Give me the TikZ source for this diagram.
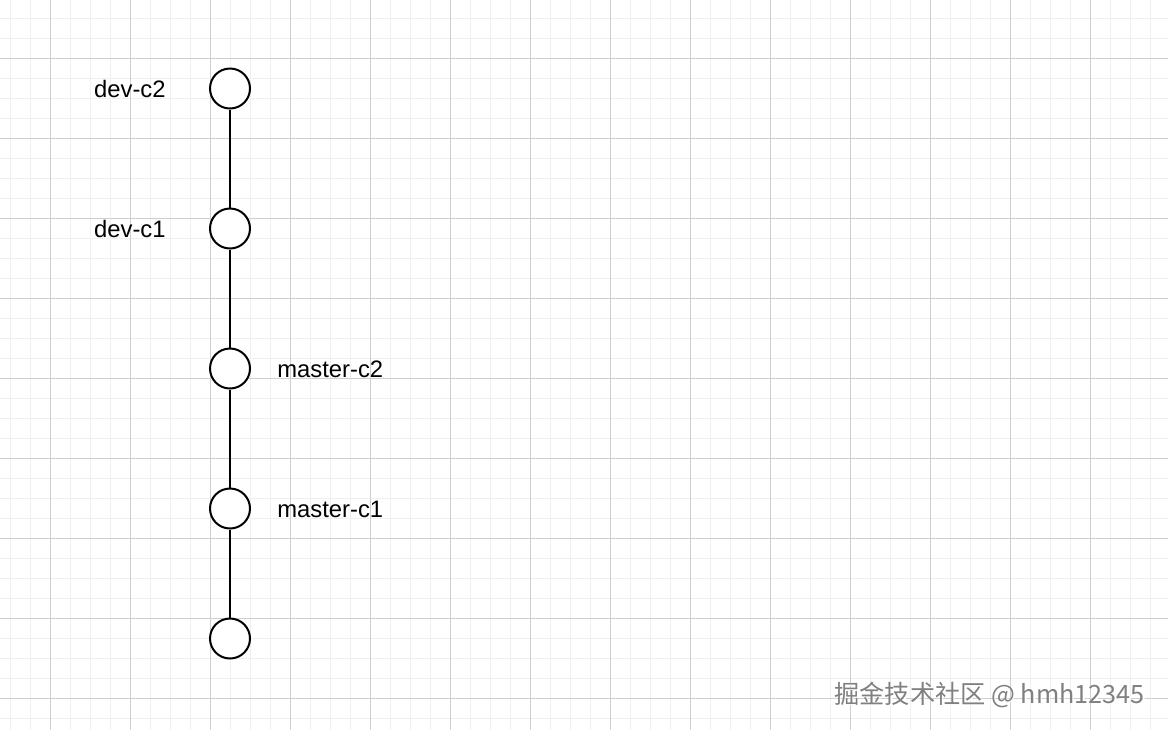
\documentclass[tikz,border=0pt]{standalone}
\usepackage{fontspec}
\setmainfont{Liberation Sans}
\newfontfamily\cjkfont{Noto Sans CJK SC}
\definecolor{minorgrid}{HTML}{F0F0F0}
\definecolor{majorgrid}{HTML}{CFCFCF}
\definecolor{wmgray}{HTML}{808080}
\tikzset{
  minorline/.style={draw=minorgrid, line width=0.5pt},
  majorline/.style={draw=majorgrid, line width=0.5pt},
  commit/.style={circle, draw=black, fill=white, line width=1pt, minimum size=20pt, inner sep=0pt},
  edge/.style={draw=black, line width=1pt},
  lbl/.style={inner sep=0pt, font=\fontsize{11.9}{14}\selectfont},
  wm/.style={inner sep=0pt, font=\cjkfont\fontsize{12.6}{15}\selectfont}
}
\begin{document}
\begin{tikzpicture}[x=0.5pt,y=-0.5pt]
\useasboundingbox (0,0) rectangle (1168,730);
\fill[white] (0,0) rectangle (1168,730);
% grid
\foreach \x in {10,30,...,1160} \draw[minorline] (\x,0) -- (\x,730);
\foreach \y in {18,38,...,730} \draw[minorline] (0,\y) -- (1168,\y);
\foreach \x in {50,130,...,1160} \draw[majorline] (\x,0) -- (\x,730);
\foreach \y in {58,138,...,730} \draw[majorline] (0,\y) -- (1168,\y);
% commits
\node[commit] (d2) at (230,88.5) {};
\node[commit] (d1) at (230,228.5) {};
\node[commit] (m2) at (230,368.5) {};
\node[commit] (m1) at (230,508.5) {};
\node[commit] (m0) at (230,638.5) {};
\draw[edge] (d2) -- (d1);
\draw[edge] (d1) -- (m2);
\draw[edge] (m2) -- (m1);
\draw[edge] (m1) -- (m0);
% labels
\node[lbl, anchor=base east] (ld2) at (166,97) {dev-c2};
\node[lbl, anchor=base east] (ld1) at (166,237) {dev-c1};
\node[lbl, anchor=base west] (lm2) at (277,377) {master-c2};
\node[lbl, anchor=base west] (lm1) at (277,517) {master-c1};
% watermark
\node[wm, anchor=base east, text=white] (wmshadow) at (1146.5,704.5) {掘金技术社区 @ hmh12345};
\node[wm, anchor=base east, text=wmgray] (wmtext) at (1145,703) {掘金技术社区 @ hmh12345};
\end{tikzpicture}
\end{document}
